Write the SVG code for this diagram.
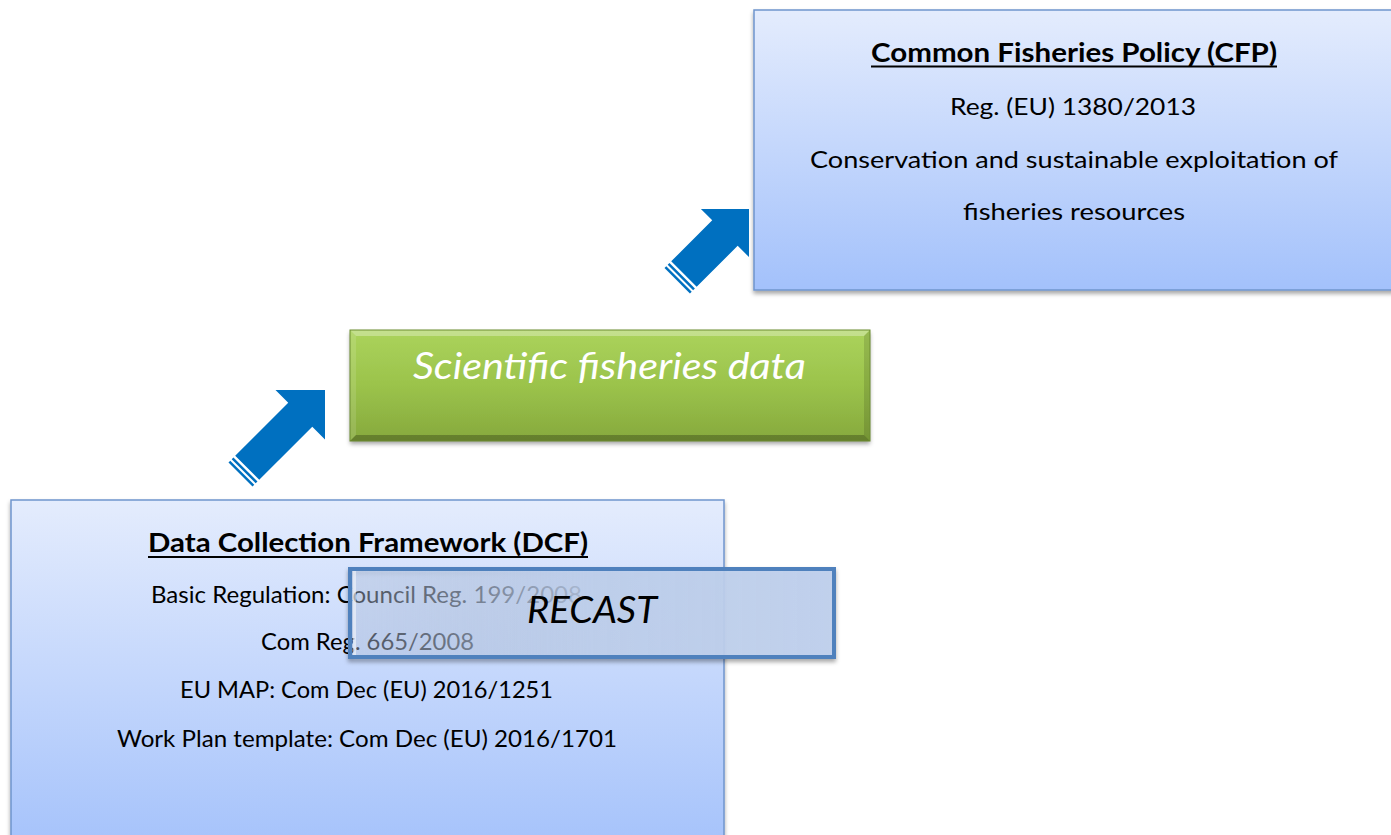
<svg xmlns="http://www.w3.org/2000/svg" width="1391" height="835" viewBox="0 0 1391 835">
  <defs>
    <linearGradient id="blueGrad" x1="0" y1="0" x2="0" y2="1">
      <stop offset="0" stop-color="#e4ecfd"/>
      <stop offset="1" stop-color="#a3c1fb"/>
    </linearGradient>
    <linearGradient id="greenGrad" x1="0" y1="0" x2="0" y2="1">
      <stop offset="0" stop-color="#abd35c"/>
      <stop offset="0.5" stop-color="#9bc34b"/>
      <stop offset="1" stop-color="#86a93d"/>
    </linearGradient>
    <linearGradient id="recastGrad" x1="0" y1="0" x2="1" y2="0">
      <stop offset="0" stop-color="#bfd0ed" stop-opacity="0.35"/>
      <stop offset="0.25" stop-color="#bfd0ed" stop-opacity="0.55"/>
      <stop offset="0.5" stop-color="#bfd0ed" stop-opacity="0.88"/>
      <stop offset="1" stop-color="#bfd0ed" stop-opacity="0.95"/>
    </linearGradient>
    <filter id="shadow" x="-5%" y="-10%" width="110%" height="125%">
      <feDropShadow dx="0" dy="3" stdDeviation="2" flood-color="#000" flood-opacity="0.35"/>
    </filter>
  </defs>
  <style>
    .box { fill: url(#blueGrad); stroke: #6f95cd; stroke-width: 1.5; }
    .txt { font-family: Lato, "Open Sans", "Liberation Sans", sans-serif; fill: #000; text-anchor: middle; }
    .title { font-weight: bold; font-size: 26px; }
    .ul { stroke: #000; stroke-width: 2; }
    .body { font-size: 23px; }
    .big { font-size: 37px; font-style: italic; }
    .arrow { fill: #0070c0; }
  </style>

  <g id="connectors">
    <g id="arrow-dcf-sfd" transform="translate(325,390) rotate(-45)">
      <path class="arrow" d="M0,0 L-35,-35 L-35,-17 L-110,-17 L-110,17 L-35,17 L-35,35 Z"/>
      <rect class="arrow" x="-115" y="-17" width="2.5" height="34"/>
      <rect class="arrow" x="-119.5" y="-17" width="2.5" height="34"/>
    </g>
    <g id="arrow-sfd-cfp" transform="translate(749,209) rotate(-45)">
      <path class="arrow" d="M0,0 L-34,-34 L-34,-18 L-92,-18 L-92,18 L-34,18 L-34,34 Z"/>
      <rect class="arrow" x="-97" y="-18" width="2.5" height="36"/>
      <rect class="arrow" x="-101.5" y="-18" width="2.5" height="36"/>
    </g>
  </g>

  <g id="cfp">
    <rect class="box" x="754" y="10" width="660" height="280" filter="url(#shadow)"/>
    <text class="txt title" x="1074" y="62" textLength="406" lengthAdjust="spacingAndGlyphs">Common Fisheries Policy (CFP)</text>
    <line class="ul" x1="871" y1="66.5" x2="1277" y2="66.5"/>
    <text class="txt body" x="1073" y="115" textLength="246" lengthAdjust="spacingAndGlyphs">Reg. (EU) 1380/2013</text>
    <text class="txt body" x="1074" y="168" textLength="528" lengthAdjust="spacingAndGlyphs">Conservation and sustainable exploitation of</text>
    <text class="txt body" x="1074" y="220" textLength="222" lengthAdjust="spacingAndGlyphs">fisheries resources</text>
  </g>

  <g id="sfd">
    <rect x="350" y="330" width="520" height="111" fill="url(#greenGrad)" filter="url(#shadow)"/>
    <polygon points="350,330 870,330 864,336 356,336" fill="#ffffff" opacity="0.3"/>
    <polygon points="350,330 356,336 356,435 350,441" fill="#ffffff" opacity="0.12"/>
    <polygon points="870,330 870,441 864,435 864,336" fill="#000000" opacity="0.12"/>
    <polygon points="350,441 356,435 864,435 870,441" fill="#000000" opacity="0.25"/>
    <rect x="350" y="330" width="520" height="111" fill="none" stroke="#6c8d30" stroke-width="1"/>
    <text class="txt big" x="609.5" y="379" textLength="393" lengthAdjust="spacingAndGlyphs" style="fill:#ffffff">Scientific fisheries data</text>
  </g>

  <g id="dcf">
    <rect class="box" x="11" y="500" width="713" height="360" filter="url(#shadow)"/>
    <text class="txt title" x="368" y="552" textLength="440" lengthAdjust="spacingAndGlyphs">Data Collection Framework (DCF)</text>
    <line class="ul" x1="148" y1="557" x2="588" y2="557"/>
    <text class="txt body" x="366.5" y="603" textLength="431" lengthAdjust="spacingAndGlyphs">Basic Regulation: Council Reg. 199/2008</text>
    <text class="txt body" x="367.5" y="650" textLength="213" lengthAdjust="spacingAndGlyphs">Com Reg. 665/2008</text>
    <text class="txt body" x="366.5" y="698" textLength="373" lengthAdjust="spacingAndGlyphs">EU MAP: Com Dec (EU) 2016/1251</text>
    <text class="txt body" x="367" y="747" textLength="500" lengthAdjust="spacingAndGlyphs">Work Plan template: Com Dec (EU) 2016/1701</text>
  </g>

  <g id="recast">
    <rect x="350" y="569" width="484" height="88" fill="url(#recastGrad)" stroke="#4f81bd" stroke-width="4" filter="url(#shadow)"/>
    <rect x="353" y="571" width="3" height="84" fill="#ffffff" opacity="0.5"/>
    <text class="txt big" x="592" y="623" textLength="130" lengthAdjust="spacingAndGlyphs">RECAST</text>
  </g>
</svg>
